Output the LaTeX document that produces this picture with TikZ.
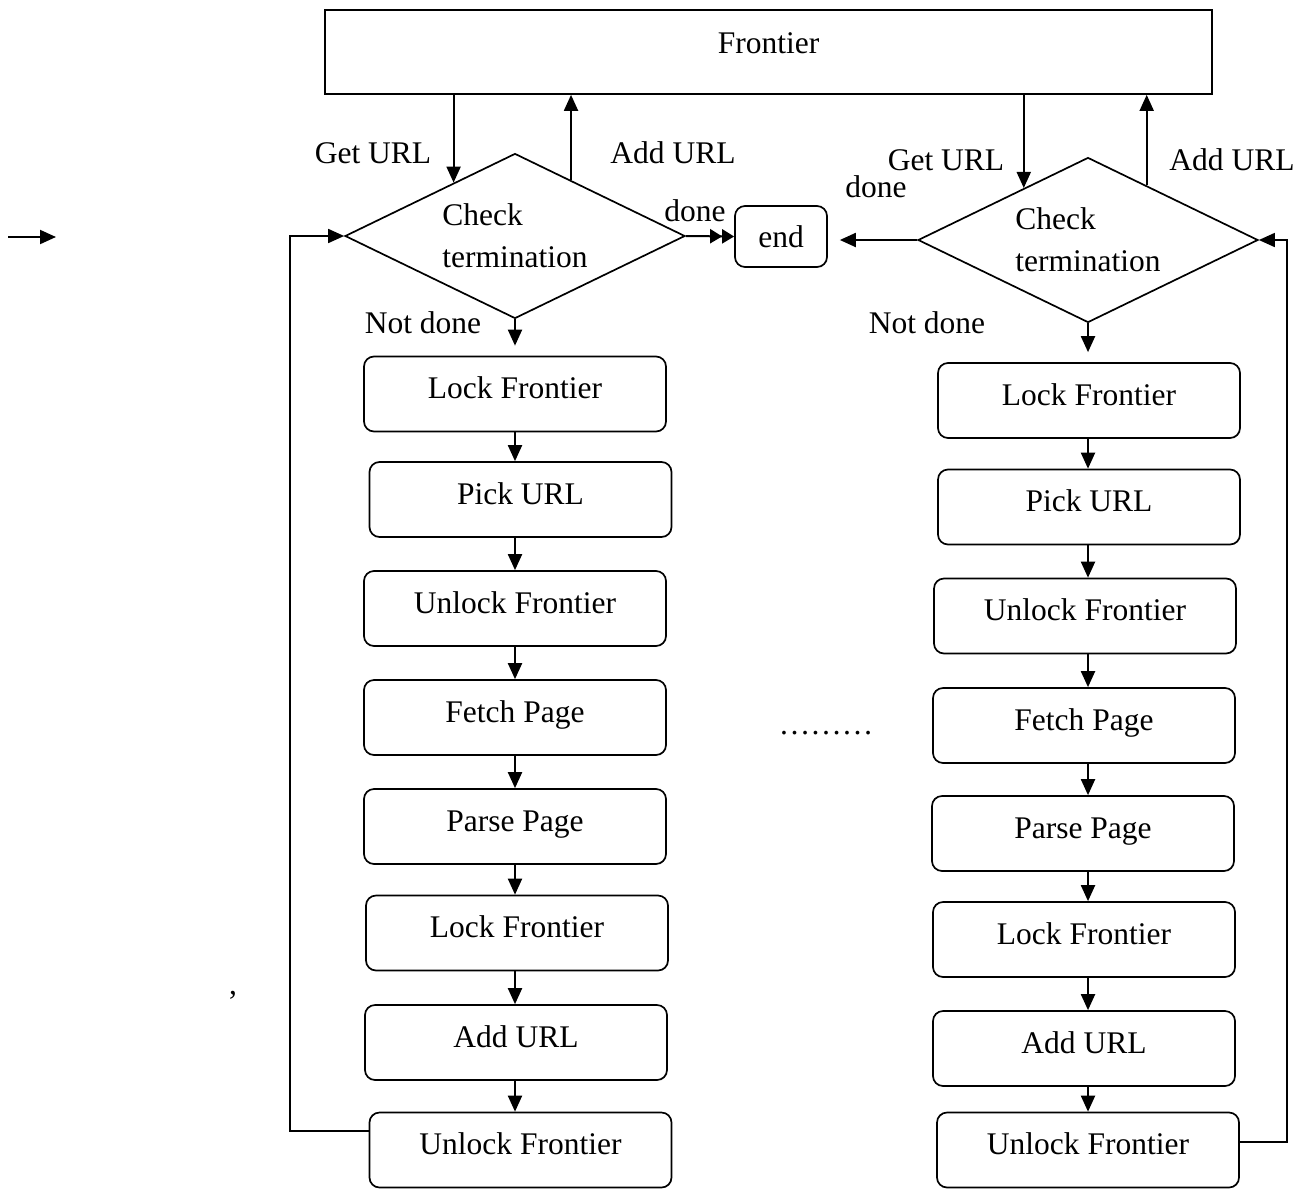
\documentclass[tikz,border=0pt]{standalone}
\usepackage{fontspec}
\setmainfont{Liberation Serif}
\usetikzlibrary{arrows.meta,shapes.geometric}
\begin{document}
\begin{tikzpicture}[x=1pt,y=-1pt,
  txt/.style={font=\fontsize{31.5}{37}\selectfont},
  stepbox/.style={txt,draw,rounded corners=10pt,line width=1.7pt,minimum width=302pt,minimum height=75pt,inner sep=0pt,text height=22pt,text depth=13pt},
  dia/.style={font=\fontsize{31.5}{42}\selectfont,draw,diamond,aspect=2,line width=1.7pt,minimum width=340pt,minimum height=165pt,inner sep=0pt,align=left},
  lbl/.style={txt,inner sep=0pt},
  arr/.style={line width=2pt,-{Triangle[length=16pt,width=14pt]}},
  ln/.style={line width=1.7pt}]
\useasboundingbox (0,0) rectangle (1305,1189);
% frontier
\node[txt,draw,line width=1.7pt,minimum width=887pt,minimum height=84pt,inner sep=0pt,text height=22pt,text depth=19pt] (F) at (768.5,52) {Frontier};
% diamonds
\node[dia] (DL) at (515,236) {Check\\termination};
\node[dia] (DR) at (1088,240) {Check\\termination};
% end
\node[txt,draw,rounded corners=10pt,line width=1.7pt,minimum width=92pt,minimum height=61pt,inner sep=0pt] (E) at (781,236.5) {end};
% left column
\node[stepbox] (L1) at (515,394) {Lock Frontier};
\node[stepbox] (L2) at (520.5,499.5) {Pick URL};
\node[stepbox] (L3) at (515,608.5) {Unlock Frontier};
\node[stepbox] (L4) at (515,717.5) {Fetch Page};
\node[stepbox] (L5) at (515,826.5) {Parse Page};
\node[stepbox] (L6) at (517,933) {Lock Frontier};
\node[stepbox] (L7) at (516,1042.5) {Add URL};
\node[stepbox] (L8) at (520.5,1150) {Unlock Frontier};
% right column
\node[stepbox] (R1) at (1089,400.5) {Lock Frontier};
\node[stepbox] (R2) at (1089,507) {Pick URL};
\node[stepbox] (R3) at (1085,616) {Unlock Frontier};
\node[stepbox] (R4) at (1084,725.5) {Fetch Page};
\node[stepbox] (R5) at (1083,833.5) {Parse Page};
\node[stepbox] (R6) at (1084,939.5) {Lock Frontier};
\node[stepbox] (R7) at (1084,1048.5) {Add URL};
\node[stepbox] (R8) at (1088,1150) {Unlock Frontier};
% labels
\node[lbl] (gl) at (373,153) {Get URL};
\node[lbl] (al) at (673,153) {Add URL};
\node[lbl] (dl) at (695,211) {done};
\node[lbl] (dr) at (876,187) {done};
\node[lbl] (gr) at (946,160) {Get URL};
\node[lbl] (ar) at (1232,160) {Add URL};
\node[lbl] (nl) at (423,323) {Not done};
\node[lbl] (nr) at (927,323) {Not done};
\node[lbl] (dots) at (826,733) {………};
\node[lbl] (comma) at (233,995) {,};
% free arrow at left
\coordinate (s0) at (8,237);
\coordinate (s1) at (56,237);
\draw[arr] (s0) -- (s1);
% frontier arrows
\draw[arr] (DL.139 |- F.south) -- (DL.139);
\draw[arr] (DL.45) -- (DL.45 |- F.south);
\draw[arr] (DR.141 |- F.south) -- (DR.141);
\draw[arr] (DR.43) -- (DR.43 |- F.south);
% done arrows
\draw[line width=2pt,-{Triangle[length=12pt,width=14pt]Triangle[length=12pt,width=14pt]}] (DL.east) -- (E.west);
\draw[arr,shorten >=12pt] (DR.west) -- (DR.west -| E.east);
% not done
\draw[arr,shorten >=10pt] (DL.south) -- (DL.south |- L1.north);
\draw[arr,shorten >=10pt] (DR.south) -- (DR.south |- R1.north);
% column arrows
\coordinate (cl) at (515,0);
\coordinate (cr) at (1088,0);
\foreach \a/\b in {L1/L2,L2/L3,L3/L4,L4/L5,L5/L6,L6/L7,L7/L8}
  \draw[arr] (cl |- \a.south) -- (cl |- \b.north);
\foreach \a/\b in {R1/R2,R2/R3,R3/R4,R4/R5,R5/R6,R6/R7,R7/R8}
  \draw[arr] (cr |- \a.south) -- (cr |- \b.north);
% loops
\coordinate (xl) at (290,0);
\coordinate (xr) at (1287,0);
\coordinate (l8w) at ([yshift=19pt]L8.west);
\coordinate (r8e) at ([yshift=8pt]R8.east);
\draw[arr,line width=1.7pt] (l8w) -- (xl |- l8w) -- (xl |- DL.west) -- (DL.west);
\draw[arr,line width=1.7pt] (r8e) -- (xr |- r8e) -- (xr |- DR.east) -- (DR.east);
\end{tikzpicture}
\end{document}
